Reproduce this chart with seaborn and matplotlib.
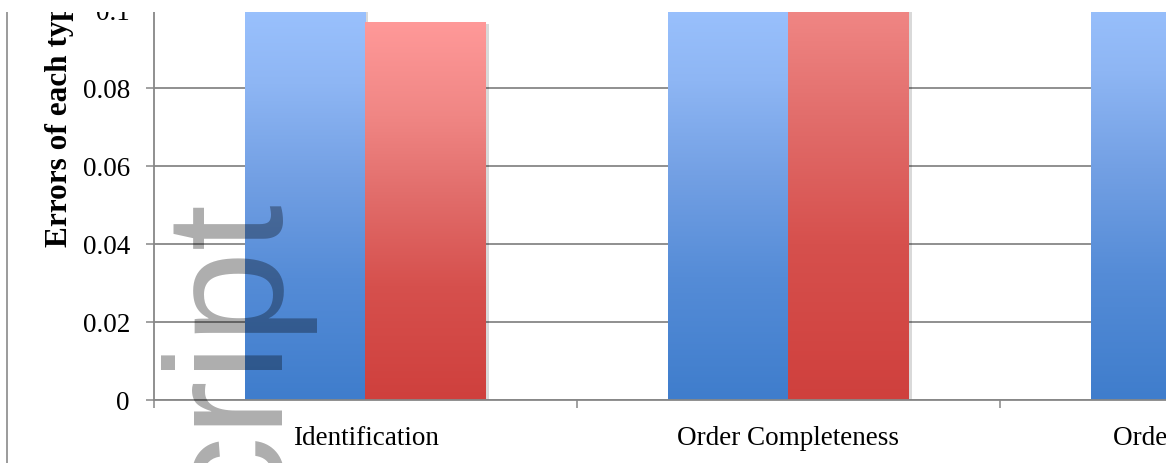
import numpy as np
import pandas as pd
import seaborn as sns
import matplotlib.pyplot as plt
from matplotlib.colors import LinearSegmentedColormap
from matplotlib import patheffects as pe
from matplotlib.patches import Rectangle
from matplotlib.lines import Line2D

# ---- data -------------------------------------------------------------
categories = ["Identification", "Order Completeness", "Order Correctness"]
series_names = ["Series 1", "Series 2"]
series1_values = [0.104, 0.105, 0.108]
series2_values = [0.097, 0.133, 0.090]
y_ticks = [0, 0.02, 0.04, 0.06, 0.08, 0.1]
y_tick_labels = ["0", "0.02", "0.04", "0.06", "0.08", "0.1"]
y_label = "Errors of each type"
watermark = "Manuscript"

df = pd.DataFrame({
    "category": categories * 2,
    "series": [series_names[0]] * len(categories) + [series_names[1]] * len(categories),
    "value": series1_values + series2_values,
})

# ---- style ------------------------------------------------------------
sns.set_theme(style="white")
plt.rcParams["font.family"] = ["Liberation Serif", "DejaVu Serif"]

W, H = 1166, 463
fig = plt.figure(figsize=(W / 100, H / 100), dpi=100)
fig.patch.set_facecolor("white")

x0_px, base_px = 154, 400          # plot origin in pixels
slot_px, unit_px = 423, 3900       # one category slot / one value unit
n_cat = len(categories)
# the plot area is wider than the page; the page edge trims the last group
ax = fig.add_axes([x0_px / W, 1 - base_px / H, n_cat * slot_px / W, base_px / H])

sns.barplot(data=df, x="category", y="value", hue="series",
            order=categories, hue_order=series_names,
            palette=["#407FCD", "#CF403D"], width=0.572, gap=0,
            saturation=1, errorbar=None, legend=False, linewidth=0, ax=ax)

# vertical gradient fills, dark at the bottom and light at the top
blue_cmap = LinearSegmentedColormap.from_list("blue_grad", [
    (0.00, (63/255, 125/255, 204/255)),
    (0.30, (85/255, 140/255, 215/255)),
    (0.55, (115/255, 160/255, 228/255)),
    (0.78, (142/255, 182/255, 244/255)),
    (1.00, (156/255, 195/255, 255/255)),
])
red_cmap = LinearSegmentedColormap.from_list("red_grad", [
    (0.00, (207/255, 64/255, 61/255)),
    (0.30, (214/255, 80/255, 77/255)),
    (0.55, (226/255, 110/255, 108/255)),
    (0.75, (240/255, 134/255, 132/255)),
    (1.00, (255/255, 153/255, 153/255)),
])
grad = np.linspace(0, 1, 256).reshape(-1, 1)
for container, cmap in zip(ax.containers, [blue_cmap, red_cmap]):
    for bar in container:
        bx, bw, bh = bar.get_x(), bar.get_width(), bar.get_height()
        im = ax.imshow(grad, cmap=cmap, origin="lower", aspect="auto",
                       extent=[bx, bx + bw, 0, bh], zorder=bar.get_zorder() + 0.1,
                       interpolation="bilinear")
        im.set_clip_path(bar)
        bar.set_facecolor("none")
        bar.set_path_effects([
            pe.SimplePatchShadow(offset=(1.5, -2), shadow_rgbFace="black", alpha=0.15),
            pe.Normal(),
        ])

# ---- axes -------------------------------------------------------------
ax.set_yticks(y_ticks, y_tick_labels)
ax.set_xticks([-0.5, 0.5, 1.5, 2.5], ["", "", "", ""])
ax.set_xticks(range(n_cat), categories, minor=True)
# limits last, so the tick setters cannot widen them
ax.set_xlim(-0.5, n_cat - 0.5)
ax.set_ylim(0, base_px / unit_px)

grid_c = "#878787"
ax.tick_params(axis="y", which="major", left=True, length=5.8, width=1.1,
               color=grid_c, pad=11.5, labelsize=19.5, labelcolor="black")
ax.tick_params(axis="x", which="major", bottom=True, length=5.8, width=1.1,
               color=grid_c, labelsize=0)
ax.tick_params(axis="x", which="minor", bottom=True, length=0, pad=19,
               labelsize=19.5, labelcolor="black")

ax.grid(axis="y", color=grid_c, lw=1.3)
ax.grid(axis="x", visible=False)
ax.set_axisbelow(True)
for side in ["top", "right"]:
    ax.spines[side].set_visible(False)
for side in ["left", "bottom"]:
    ax.spines[side].set_color(grid_c)
    ax.spines[side].set_linewidth(1.3)

ax.set_xlabel("")
ax.set_ylabel(y_label, fontweight="bold", fontsize=22.5, color="black")
ax.yaxis.set_label_coords((74 - x0_px) / (n_cat * slot_px), (base_px - 118) / base_px)

# ---- page furniture ---------------------------------------------------
top_px = 12
fig.add_artist(Line2D([7 / W, 7 / W], [0, 1 - top_px / H], color="#8a8a8a",
                      lw=1.2, transform=fig.transFigure))
fig.text(269 / W, 1 - 190 / H, watermark, rotation=90, rotation_mode="anchor",
         ha="right", va="baseline", fontsize=120, family="Liberation Sans",
         color="black", alpha=0.32, zorder=15)
fig.add_artist(Rectangle((0, 1 - top_px / H), 1, top_px / H,
                         transform=fig.transFigure, facecolor="white",
                         edgecolor="none", zorder=20))

fig.savefig("out.png", dpi=100)
